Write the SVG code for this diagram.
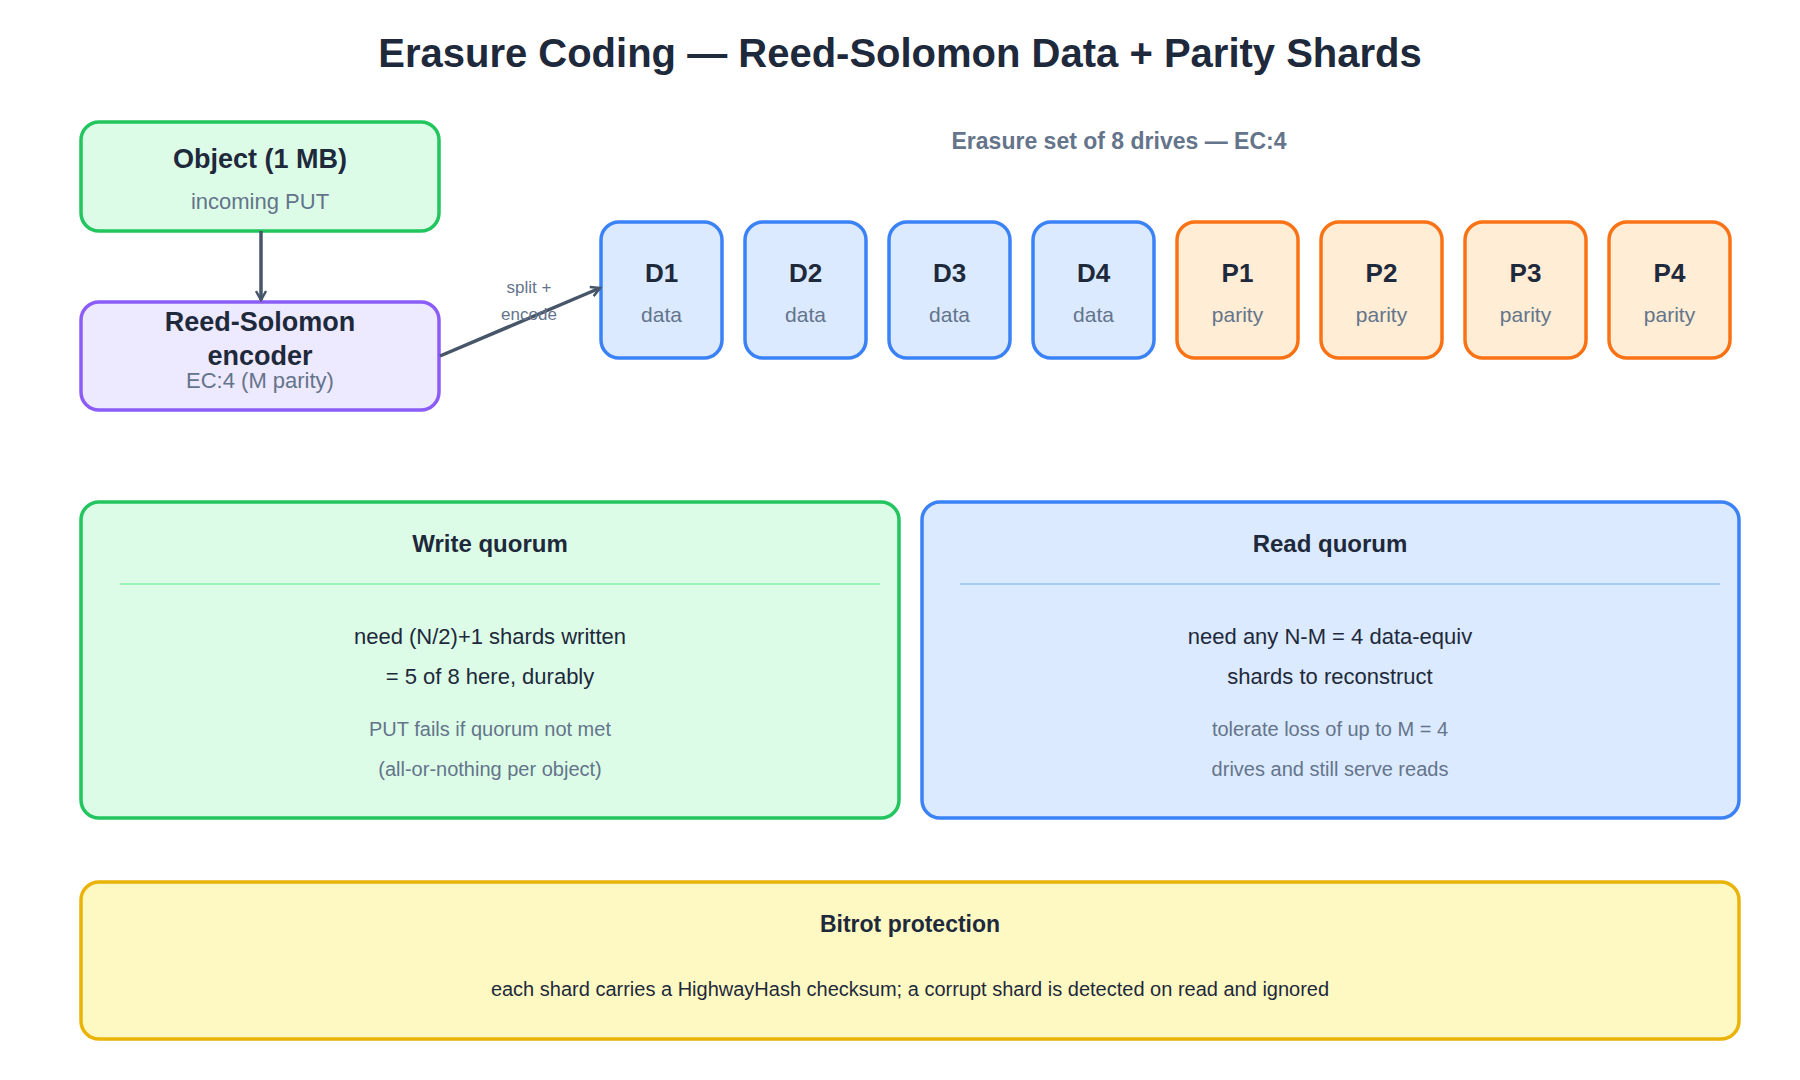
<svg xmlns="http://www.w3.org/2000/svg" width="1800" height="1080" viewBox="0 0 1800 1080">
<defs>
<marker id="ah" viewBox="0 0 12 12" refX="10" refY="6" markerWidth="12" markerHeight="12" markerUnits="userSpaceOnUse" orient="auto"><path d="M1,1 L10,6 L1,11" fill="none" stroke="#475569" stroke-width="2.5"/></marker>
<style>
text{font-family:"Liberation Sans",Arial,sans-serif;text-anchor:middle}
.t{font-weight:bold;fill:#1e293b}
.s{fill:#64748b}
.b{fill:#1e293b}
.g{fill:#dcfce7;stroke:#22c55e;stroke-width:3.5}
.p{fill:#ede9fe;stroke:#8b5cf6;stroke-width:3.5}
.d{fill:#dbeafe;stroke:#3b82f6;stroke-width:3.5}
.o{fill:#ffedd5;stroke:#f97316;stroke-width:3.5}
.y{fill:#fef9c3;stroke:#eab308;stroke-width:3.5}
</style>
</defs>
<rect width="1800" height="1080" fill="#fff"/>
<text x="900" y="67" class="t" font-size="40">Erasure Coding — Reed-Solomon Data + Parity Shards</text>
<text x="1119" y="149" font-size="23" font-weight="bold" class="s">Erasure set of 8 drives — EC:4</text>
<g id="object"><rect x="81" y="122" width="358" height="109" rx="18" class="g"/><text x="260" y="168" class="t" font-size="27">Object (1 MB)</text><text x="260" y="209" class="s" font-size="22">incoming PUT</text></g>
<g id="encoder"><rect x="81" y="302" width="358" height="108" rx="18" class="p"/><text x="260" y="331" class="t" font-size="27">Reed-Solomon</text><text x="260" y="365" class="t" font-size="27">encoder</text><text x="260" y="388" class="s" font-size="22">EC:4 (M parity)</text></g>
<g id="D1"><rect x="601" y="222" width="121" height="136" rx="18" class="d"/><text x="661.5" y="282" class="t" font-size="26">D1</text><text x="661.5" y="322" class="s" font-size="21">data</text></g>
<g id="D2"><rect x="745" y="222" width="121" height="136" rx="18" class="d"/><text x="805.5" y="282" class="t" font-size="26">D2</text><text x="805.5" y="322" class="s" font-size="21">data</text></g>
<g id="D3"><rect x="889" y="222" width="121" height="136" rx="18" class="d"/><text x="949.5" y="282" class="t" font-size="26">D3</text><text x="949.5" y="322" class="s" font-size="21">data</text></g>
<g id="D4"><rect x="1033" y="222" width="121" height="136" rx="18" class="d"/><text x="1093.5" y="282" class="t" font-size="26">D4</text><text x="1093.5" y="322" class="s" font-size="21">data</text></g>
<g id="P1"><rect x="1177" y="222" width="121" height="136" rx="18" class="o"/><text x="1237.5" y="282" class="t" font-size="26">P1</text><text x="1237.5" y="322" class="s" font-size="21">parity</text></g>
<g id="P2"><rect x="1321" y="222" width="121" height="136" rx="18" class="o"/><text x="1381.5" y="282" class="t" font-size="26">P2</text><text x="1381.5" y="322" class="s" font-size="21">parity</text></g>
<g id="P3"><rect x="1465" y="222" width="121" height="136" rx="18" class="o"/><text x="1525.5" y="282" class="t" font-size="26">P3</text><text x="1525.5" y="322" class="s" font-size="21">parity</text></g>
<g id="P4"><rect x="1609" y="222" width="121" height="136" rx="18" class="o"/><text x="1669.5" y="282" class="t" font-size="26">P4</text><text x="1669.5" y="322" class="s" font-size="21">parity</text></g>
<g id="write"><rect x="81" y="502" width="818" height="316" rx="18" class="g"/><text x="490" y="552" class="t" font-size="24">Write quorum</text><line x1="120" y1="584" x2="880" y2="584" stroke="#86efac" stroke-width="1.5"/><text x="490" y="644" class="b" font-size="22">need (N/2)+1 shards written</text><text x="490" y="684" class="b" font-size="22">= 5 of 8 here, durably</text><text x="490" y="736" class="s" font-size="20">PUT fails if quorum not met</text><text x="490" y="776" class="s" font-size="20">(all-or-nothing per object)</text></g>
<g id="read"><rect x="922" y="502" width="817" height="316" rx="18" class="d"/><text x="1330" y="552" class="t" font-size="24">Read quorum</text><line x1="960" y1="584" x2="1720" y2="584" stroke="#93c5fd" stroke-width="1.5"/><text x="1330" y="644" class="b" font-size="22">need any N-M = 4 data-equiv</text><text x="1330" y="684" class="b" font-size="22">shards to reconstruct</text><text x="1330" y="736" class="s" font-size="20">tolerate loss of up to M = 4</text><text x="1330" y="776" class="s" font-size="20">drives and still serve reads</text></g>
<g id="bitrot"><rect x="81" y="882" width="1658" height="157" rx="18" class="y"/><text x="910" y="932" class="t" font-size="23">Bitrot protection</text><text x="910" y="996" class="b" font-size="20">each shard carries a HighwayHash checksum; a corrupt shard is detected on read and ignored</text></g>
<g id="connectors" fill="none" stroke="#475569" stroke-width="3.5">
<line x1="261" y1="231" x2="261" y2="300" marker-end="url(#ah)"/>
<line x1="440" y1="356" x2="600" y2="288" marker-end="url(#ah)"/>
<text x="529" y="293" font-size="17" class="s" stroke="none">split +</text>
<text x="529" y="320" font-size="17" class="s" stroke="none">encode</text>
</g>
</svg>
